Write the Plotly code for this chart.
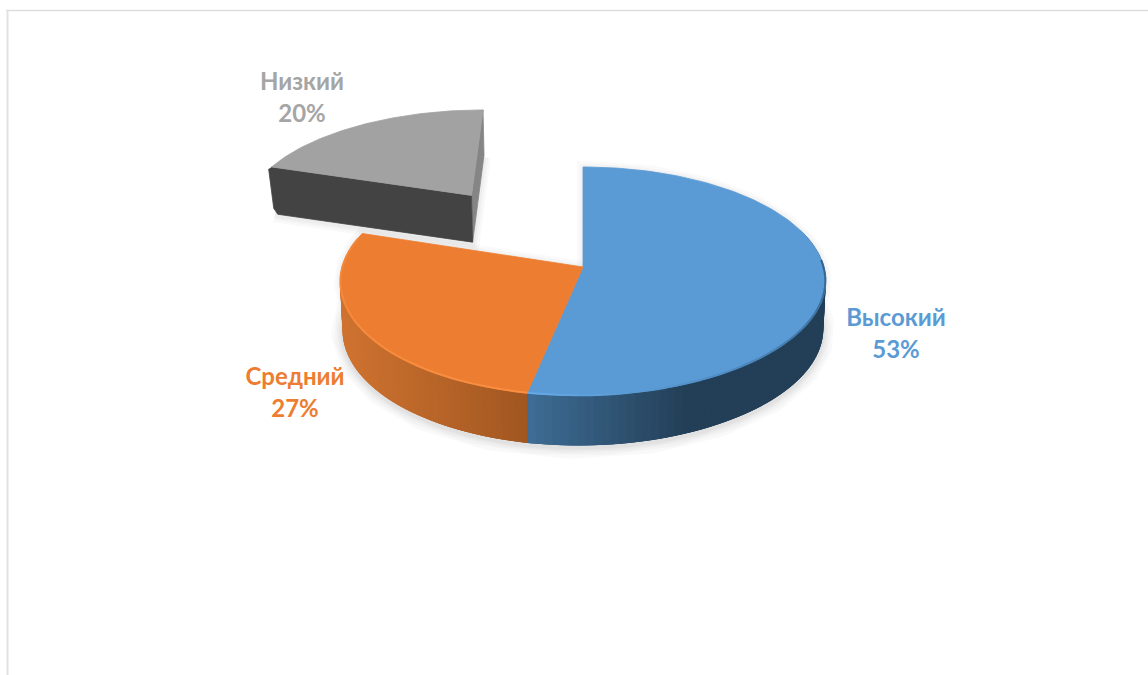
import math
import numpy as np
import plotly.graph_objects as go

# ---- data ----
categories = ["Высокий", "Средний", "Низкий"]
shares = [53, 27, 20]
exploded = [0.0, 0.0, 0.855]
top_colors = ["#5B9BD5", "#ED7D31", "#A5A5A5"]

# ---- projection of the tilted pie ----
CX, CY = 583.0, 267.0
RX, RY, P = 241.0, 112.5, 0.125
DEPTH = 48.0
W, H = 1148, 675


def project(wx, wd, low=False):
    s = 1 / (1 + P * wd)
    x = CX + RX * wx * s
    if wd < 0:
        x -= 4.5 * wd * wd
    y = CY - RY * wd * s
    if low:
        x = CX + (x - CX) * 0.99
        y += DEPTH * s ** 0.3
    return x, y


bounds = np.cumsum([0] + shares) / sum(shares) * 2 * math.pi


def slice_geom(i):
    mid = (bounds[i] + bounds[i + 1]) / 2
    return exploded[i] * math.sin(mid), exploded[i] * math.cos(mid)


def arc(i, a0, a1, low=False, n=90):
    ox, od = slice_geom(i)
    t = np.linspace(a0, a1, n)
    pts = [project(ox + math.sin(v), od + math.cos(v), low) for v in t]
    return [p[0] for p in pts], [p[1] for p in pts]


def mix(c1, c2, f):
    f = min(max(f, 0), 1)
    a = [int(c1[k:k + 2], 16) for k in (1, 3, 5)]
    b = [int(c2[k:k + 2], 16) for k in (1, 3, 5)]
    return "rgb(%d,%d,%d)" % tuple(round(a[k] + (b[k] - a[k]) * f) for k in range(3))


fig = go.Figure()


def poly(xs, ys, color, line=None, width=0.8):
    fig.add_trace(go.Scatter(
        x=list(xs), y=list(ys), mode="lines", fill="toself", fillcolor=color,
        line=dict(color=line or color, width=width), hoverinfo="skip", showlegend=False))


def stroke(xs, ys, color, width):
    fig.add_trace(go.Scatter(
        x=list(xs), y=list(ys), mode="lines",
        line=dict(color=color, width=width), hoverinfo="skip", showlegend=False))


# soft shadows
lowx, lowy = arc(0, 0, 2 * math.pi * 0.8, low=True, n=200)
for wid in (22, 16, 11, 7, 4):
    stroke(lowx, [v + 2 for v in lowy], "rgba(0,0,0,0.022)", wid)
for i in (0, 1):
    xs, ys = arc(i, bounds[i], bounds[i + 1])
    xs = [CX] + xs + [CX]
    ys = [CY] + ys + [CY]
    for wid in (12, 7, 3):
        stroke(xs, ys, "rgba(0,0,0,0.018)", wid)

# exploded slice: shadow, front faces, top
i = 2
ox, od = slice_geom(i)
ax, ay = project(ox, od)
bx, by = project(ox, od, low=True)
lx, ly = project(ox + math.sin(bounds[2]), od + math.cos(bounds[2]))
lx2, ly2 = project(ox + math.sin(bounds[2]), od + math.cos(bounds[2]), low=True)
rx, ry = project(ox + math.sin(bounds[3]), od + math.cos(bounds[3]))
rx2, ry2 = project(ox + math.sin(bounds[3]), od + math.cos(bounds[3]), low=True)
for wid in (14, 9, 5):
    stroke([lx2, bx, rx2], [ly2 + 2, by + 2, ry2 + 2], "rgba(0,0,0,0.025)", wid)
poly([ax, rx, rx2, bx], [ay, ry, ry2, by], "#858585")
poly([lx, ax, bx, lx2 + 3, lx2 - 1, lx - 3], [ly, ay, by, ly2 + 1, ly2 - 5, ly + 2], "#434343")
xs, ys = arc(i, bounds[2], bounds[3])
poly([ax] + xs + [ax], [ay] + ys + [ay], "#A2A2A2")

# main body: side walls with gradient; each strip overlaps the next to hide seams
SIDE = {
    0: ("#3F6E97", "#233F57", 527, 690),
    1: ("#CE7230", "#A05620", 345, 527),
}
for i in (1, 0):
    a0 = max(bounds[i], math.pi / 2 - 0.35) if i == 0 else bounds[i]
    a1 = bounds[i + 1] if i == 0 else min(bounds[i + 1], 1.62 * math.pi)
    t = np.linspace(a0, a1, 70)
    c0, c1, x0, x1 = SIDE[i]
    if i == 0:
        # paint from the far (dark) end towards the split line so the boundary stays crisp
        steps = [(t[k], t[min(k + 3, len(t) - 1)]) for k in range(len(t) - 1)]
    else:
        steps = [(t[k + 1], t[max(k - 2, 0)]) for k in range(len(t) - 2, -1, -1)]
    for v0, v1 in steps:
        p0 = project(math.sin(v0), math.cos(v0))
        p1 = project(math.sin(v1), math.cos(v1))
        q0 = project(math.sin(v0), math.cos(v0), low=True)
        q1 = project(math.sin(v1), math.cos(v1), low=True)
        mx = project(math.sin(v0), math.cos(v0))[0]
        fig.add_trace(go.Scatter(
            x=[p0[0], p1[0], q1[0], q0[0], p0[0]], y=[p0[1], p1[1], q1[1], q0[1], p0[1]],
            mode="lines", fill="toself", fillcolor=mix(c0, c1, (mx - x0) / (x1 - x0)),
            line=dict(width=0), hoverinfo="skip", showlegend=False))

# top faces
for i in (0, 1):
    xs, ys = arc(i, bounds[i], bounds[i + 1], n=160)
    poly([CX] + xs + [CX], [CY] + ys + [CY], top_colors[i])

# bevel highlight along the rim
RIM = {0: ("#65A9E6", "#2F5F8A"), 1: ("#FA8F42", "#F2873A")}
for i in (0, 1):
    a0 = bounds[i + 1] if i == 0 else bounds[i]
    a1 = math.pi * 0.48 if i == 0 else bounds[i + 1] - 0.05
    t = np.linspace(a0, a1, 40)
    for k, (v0, v1) in enumerate(zip(t[:-1], t[1:])):
        p0 = project(math.sin(v0) * 0.998, math.cos(v0) * 0.998)
        p1 = project(math.sin(v1) * 0.998, math.cos(v1) * 0.998)
        stroke([p0[0], p1[0]], [p0[1], p1[1]], mix(*RIM[i], k / 39), 2)

# labels
LABEL_POS = [(896, 320), (295, 379), (302, 84)]
for name, pct, col, (lx_, ly_) in zip(categories, shares, top_colors, LABEL_POS):
    fig.add_trace(go.Scatter(
        x=[lx_, lx_], y=[ly_, ly_ + 32], mode="text",
        text=[name, f"{pct}%"], textposition="middle center",
        textfont=dict(family="Lato, Open Sans", size=24, color=col, weight="bold"),
        hoverinfo="skip", showlegend=False))

fig.update_layout(
    width=W, height=H, margin=dict(l=0, r=0, t=0, b=0),
    paper_bgcolor="white", plot_bgcolor="white", showlegend=False,
    xaxis=dict(range=[0, W], visible=False, fixedrange=True),
    yaxis=dict(range=[H, 0], visible=False, fixedrange=True),
    shapes=[
        dict(type="line", x0=6, x1=W, y0=10.5, y1=10.5, line=dict(color="#DEDEDE", width=1.5)),
        dict(type="line", x0=7.5, x1=7.5, y0=10, y1=H, line=dict(color="#E2E2E2", width=2)),
    ],
)
fig.write_html("out.html", config=dict(displayModeBar=False),
               post_script="document.body.style.margin='0';document.documentElement.style.overflow='hidden';")
